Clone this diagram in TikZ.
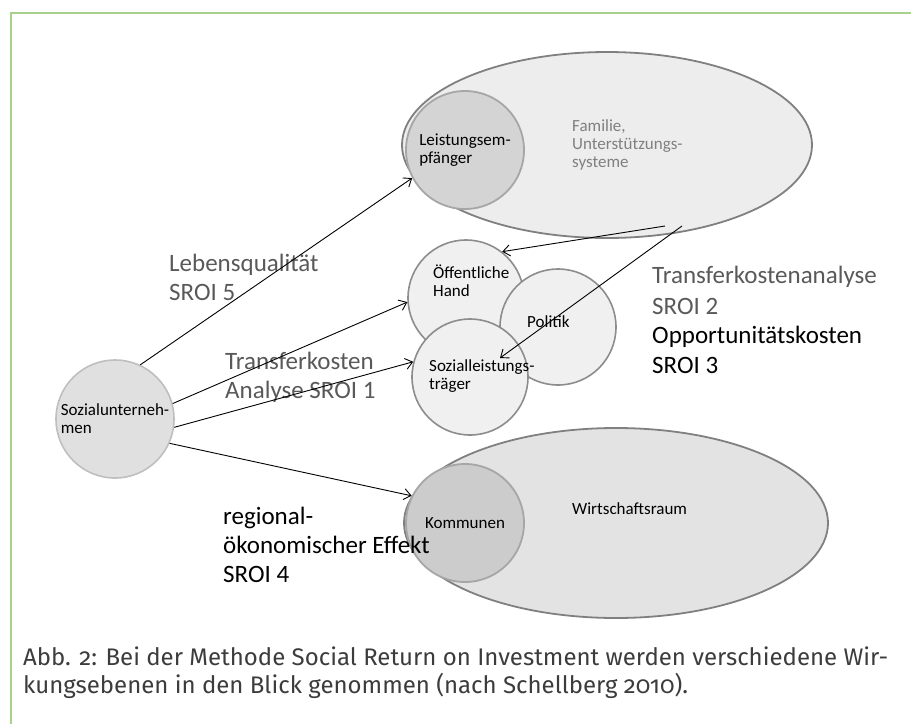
\documentclass[tikz,border=0pt]{standalone}
\usepackage{fontspec}
\setmainfont{Carlito}
\newfontfamily\capfont[Numbers=OldStyle]{Fira Sans}
\usetikzlibrary{arrows.meta,shapes.geometric}
\definecolor{sgreen}{HTML}{A9D18E}
\definecolor{sedge}{HTML}{808080}
\definecolor{slite}{HTML}{A6A6A6}
\definecolor{sfill}{HTML}{EDEDED}
\definecolor{score}{HTML}{D4D4D4}
\definecolor{smid}{HTML}{F0F0F0}
\definecolor{sgrey}{HTML}{595959}
\definecolor{scap}{HTML}{3C3C3C}
\tikzset{
  big/.style={ellipse,draw=sedge,fill=sfill,line width=1.8pt,inner sep=0pt},
  core/.style={circle,draw=slite,fill=score,line width=1.8pt,minimum size=118pt,inner sep=0pt,align=left,font=\fontsize{17}{18}\selectfont},
  mid/.style={circle,draw=sedge!90,fill=smid,line width=1.6pt,minimum size=116pt,inner sep=0pt},
  src/.style={circle,draw=black!25,fill=black!12,line width=1.6pt,minimum size=118pt,inner sep=0pt,align=left,font=\fontsize{17}{18}\selectfont},
  txt/.style={anchor=base west,align=left,inner sep=0pt,font=\fontsize{17}{18}\selectfont},
  lbl/.style={anchor=base west,align=left,inner sep=0pt,text=sgrey,font=\fontsize{25}{29}\selectfont},
  blk/.style={lbl,text=black},
  capt/.style={anchor=base west,align=left,inner sep=0pt,text=scap,font=\capfont\fontsize{24}{28}\selectfont},
  arr/.style={-{Straight Barb[length=7pt,width=11pt]},line width=0.9pt},
  frame/.style={draw=sgreen,line width=1.6pt},
}
\begin{document}
\begin{tikzpicture}[x=1pt,y=-1pt]
\useasboundingbox (0,0) rectangle (911,724);
\draw[frame] (11,724) -- (11,13) -- (911,13);
% upper field
\node[big,minimum width=410pt,minimum height=186pt] (fa) at (607,145) {};
\node[core] (le) at (465,150) {Leistungsem-\\pfänger};
\node[txt,text=sedge] (faT) at (572,167) {Familie,\\Unterstützungs-\\systeme};
% public side
\node[mid] (oh) at (466,298) {};
\node[mid] (po) at (558,327) {};
\node[mid] (st) at (470,377) {};
\node[txt] (ohT) at (433,296) {Öffentliche\\Hand};
\node[txt] (poT) at (527,327) {Politik};
\node[txt] (stT) at (429,389) {Sozialleistungs-\\träger};
% lower field
\node[big,fill=black!11,minimum width=424pt,minimum height=190pt] (wr) at (616,523) {};
\node[core,fill=black!20] (ko) at (465,523) {Kommunen};
\node[txt] (wrT) at (572,514) {Wirtschaftsraum};
\node[src] (su) at (115,419) {Sozialunterneh-\\men};
% labels
\node[lbl] (lq) at (169,300) {Lebensqualität\\SROI 5};
\node[lbl] (tk) at (225,398) {Transferkosten\\Analyse SROI 1};
\node[lbl,font=\fontsize{25}{31}\selectfont] (ta) at (652,314) {Transferkostenanalyse\\SROI 2};
\node[blk,font=\fontsize{25}{30}\selectfont] (op) at (652,373) {Opportunitätskosten\\SROI 3};
\node[blk] (re) at (223,582) {regional-\\ökonomischer Effekt\\SROI 4};
\node[capt] (cp) at (23,693) {Abb. 2: Bei der Methode Social Return on Investment werden verschiedene Wir-\\kungsebenen in den Blick genommen (nach Schellberg 2010).};
% arrows
\coordinate (f1) at (665,226);
\coordinate (f2) at (682,226);
\coordinate (s2) at (500,358);
\draw[arr] (su.65) -- (le.208);
\draw[arr] (su.15) -- (oh.184);
\draw[arr] (su.-8) -- (st.165);
\draw[arr] (su.-24) -- (ko.153);
\draw[arr] (f1) -- (oh.52);
\draw[arr] (f2) -- (s2);
\end{tikzpicture}
\end{document}
